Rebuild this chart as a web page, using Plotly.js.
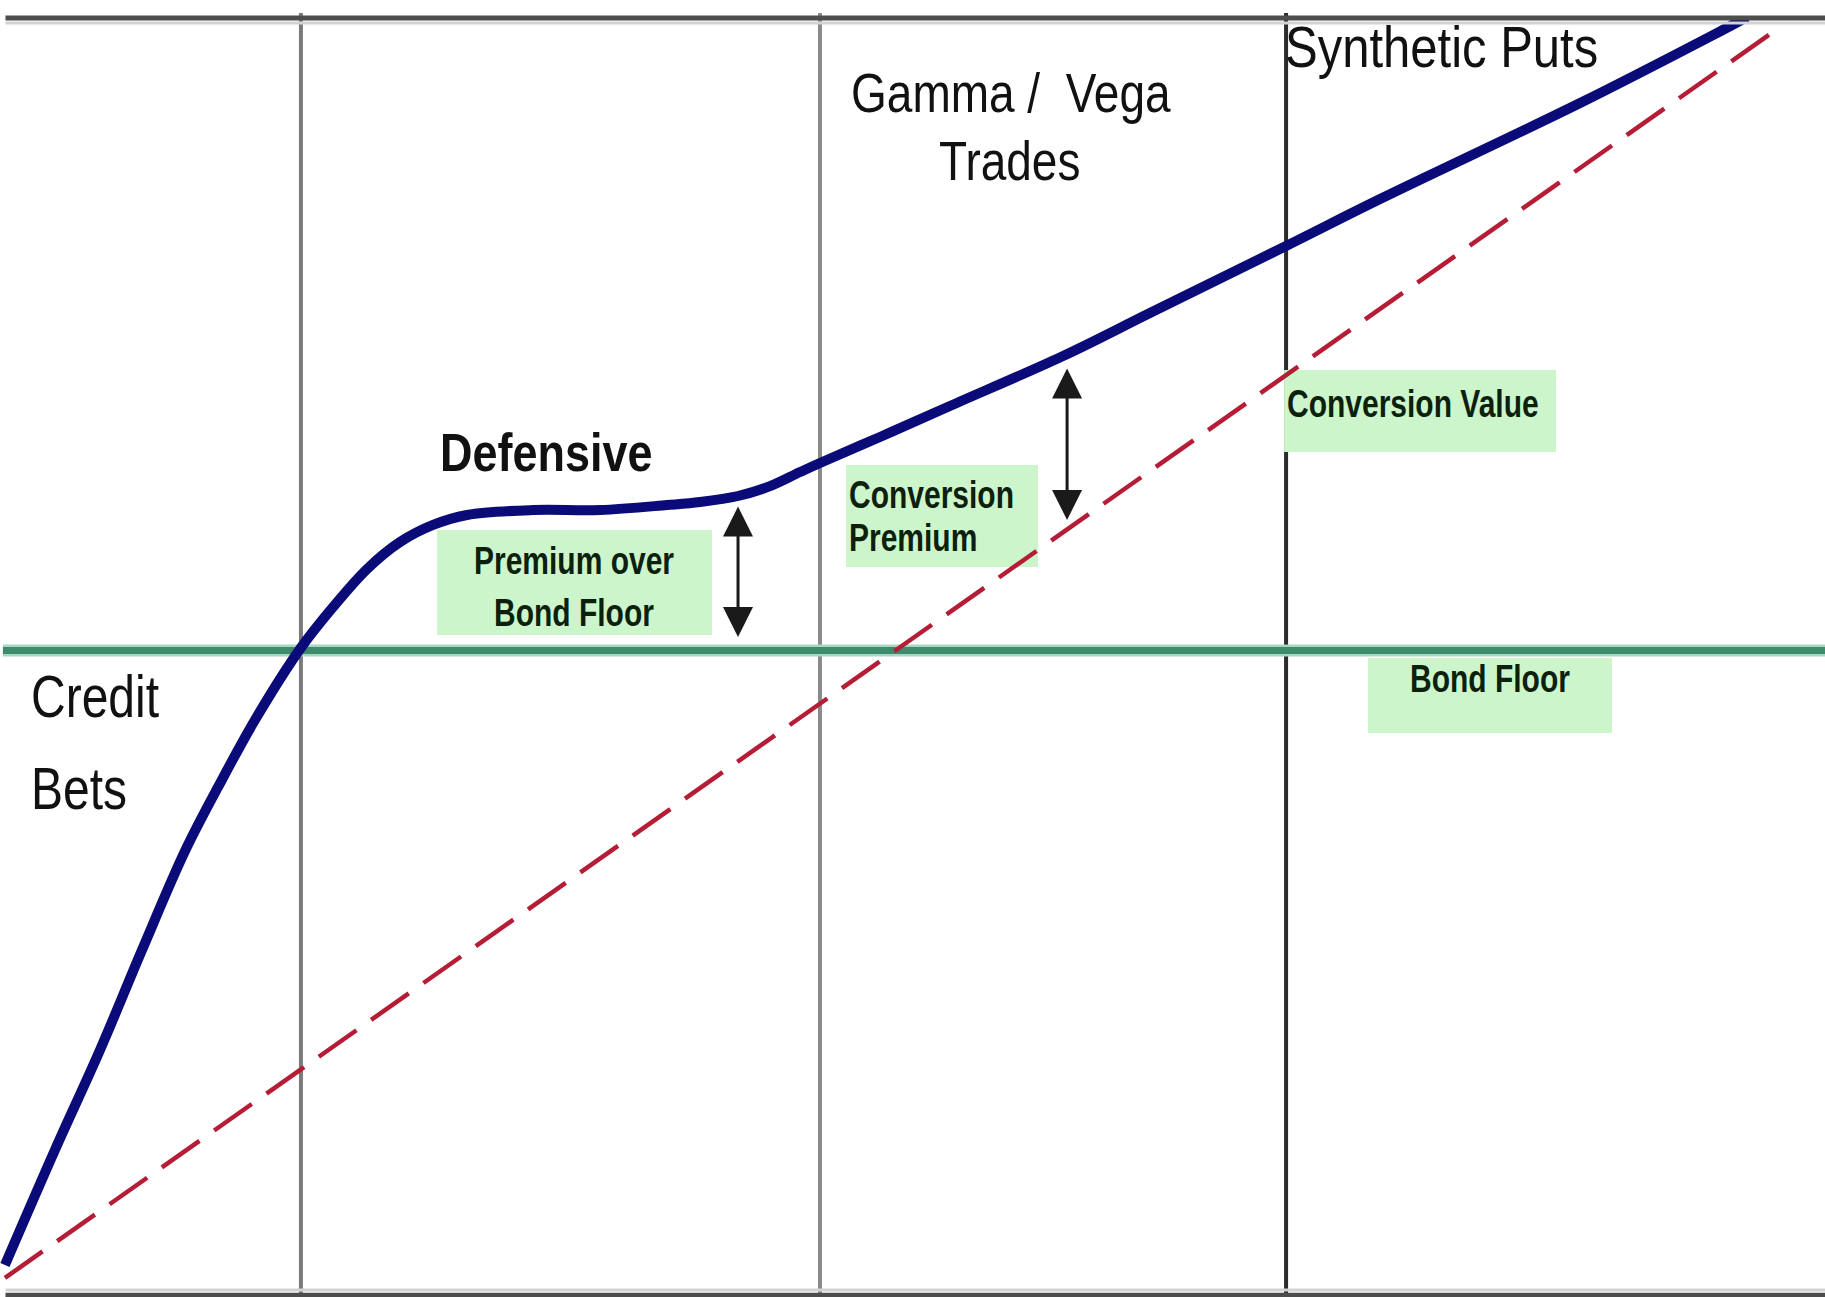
<!DOCTYPE html>
<html>
<head>
<meta charset="utf-8">
<script src="https://cdn.plot.ly/plotly-3.0.1.min.js"></script>
<style>
  html, body { margin: 0; padding: 0; background: #ffffff; }
  #chart { width: 1825px; height: 1297px; }
</style>
</head>
<body>
<div id="chart"></div>
<script>
// ---- Data (x = underlying stock price, y = value; both on a 0-100 scale) ----
// Convertible bond price (solid navy curve)
const cbPriceX = [0.27, 3.01, 5.48, 7.78, 10.14, 11.95, 13.97, 16.44, 18.25, 20.11, 21.92, 23.73, 25.59, 29.21, 32.88, 36.55, 38.36, 40.44, 42.08, 43.84, 44.93, 48.22, 52.05, 58.25, 63.01, 70.47, 75.62, 86.58, 93.86, 95.73];
const cbPriceY = [2.20, 11.22, 19.06, 26.90, 34.67, 39.69, 44.94, 50.51, 53.80, 56.78, 58.90, 60.24, 61.02, 61.41, 61.41, 61.80, 62.04, 62.51, 63.22, 64.39, 65.10, 67.14, 69.57, 73.49, 76.86, 82.12, 85.80, 93.33, 98.66, 100.08];

// Conversion value (dashed red line)
const convValueX = [0.27, 97.15];
const convValueY = [1.18, 98.90];

// Bond floor (flat green line)
const bondFloorX = [0.16, 100];
const bondFloorY = [50.4, 50.4];

// Regime boundaries (x positions of the vertical dividers)
const regimeBounds = [16.49, 44.93, 70.47];

// Regime labels
const regimeLabels = ["Credit", "Bets", "Defensive", "Gamma /  Vega", "Trades", "Synthetic Puts"];
// Box labels
const boxLabels = ["Premium over", "Bond Floor", "Conversion", "Premium", "Conversion Value", "Bond Floor"];

// Double arrows: [x, yTop, yBottom]
const premiumArrowBond = [40.44, 61.80, 51.45];
const premiumArrowConv = [58.47, 72.63, 60.63];

// ---- Styling ----
const FONT = "Liberation Sans, Arial, sans-serif";
const BOX_FILL = "#ccf5cc";

const traces = [
  {
    x: bondFloorX, y: bondFloorY, type: "scatter", mode: "lines",
    line: { color: "#a9d6c3", width: 12 }, hoverinfo: "skip"
  },
  {
    x: bondFloorX, y: bondFloorY, type: "scatter", mode: "lines",
    line: { color: "#3d8a6c", width: 7 }, hoverinfo: "skip"
  },
  {
    x: convValueX, y: convValueY, type: "scatter", mode: "lines",
    line: { color: "#b51d36", width: 4.5, dash: "46px,18px" }, hoverinfo: "skip"
  },
  {
    x: cbPriceX, y: cbPriceY, type: "scatter", mode: "lines",
    line: { color: "#0a0a78", width: 10, shape: "spline", smoothing: 1 }, hoverinfo: "skip"
  }
];

const vColors = ["#7a7a7a", "#8a8a8a", "#2b2b2b"];
const shapes = [];
// green label boxes (below traces)
const boxes = [
  [23.95, 39.01, 51.6, 59.84],
  [46.36, 56.88, 56.94, 64.94],
  [70.36, 85.26, 65.96, 72.39],
  [74.96, 88.33, 43.92, 49.80]
];
boxes.forEach(b => shapes.push({
  type: "rect", xref: "x", yref: "y", x0: b[0], x1: b[1], y0: b[2], y1: b[3],
  fillcolor: BOX_FILL, line: { width: 0 }, layer: "below"
}));
regimeBounds.forEach((xb, i) => shapes.push({
  type: "line", xref: "x", yref: "paper", x0: xb, x1: xb, y0: 0, y1: 1.004,
  line: { color: vColors[i], width: 4 }, layer: "below"
}));
// frame lines top and bottom
shapes.push({ type: "line", xref: "paper", yref: "paper", x0: 0.003, x1: 1, y0: 0.9961, y1: 0.9961, line: { color: "#d2d2d2", width: 3 } });
shapes.push({ type: "line", xref: "paper", yref: "paper", x0: 0.003, x1: 1, y0: 1, y1: 1, line: { color: "#4d4d4d", width: 5 } });
shapes.push({ type: "line", xref: "paper", yref: "paper", x0: 0.003, x1: 1, y0: 0.0024, y1: 0.0024, line: { color: "#d2d2d2", width: 3 } });
shapes.push({ type: "line", xref: "paper", yref: "paper", x0: 0.003, x1: 1, y0: -0.0018, y1: -0.0018, line: { color: "#4d4d4d", width: 5 } });

function label(text, x, y, size, opts) {
  return Object.assign({
    text: text, x: x, y: y, xref: "x", yref: "y", showarrow: false,
    xanchor: "center", yanchor: "middle",
    font: { family: FONT, size: size, color: "#111111" }
  }, opts || {});
}

const SMALL = 30;
const boxFont = { family: FONT, size: SMALL, color: "#0d1f0d", weight: "bold" };

const annotations = [
  label(regimeLabels[0], 1.58, 46.82, 48, { xanchor: "left" }),
  label(regimeLabels[1], 1.58, 39.53, 48, { xanchor: "left" }),
  label(regimeLabels[2], 29.92, 65.96, 45, { font: { family: FONT, size: 45, color: "#111111", weight: "bold" } }),
  label(regimeLabels[3], 55.42, 94.16, 46),
  label(regimeLabels[4], 55.34, 88.86, 46),
  label(regimeLabels[5], 70.30, 97.73, 49, { xanchor: "left" }),
  label(boxLabels[0], 31.45, 57.49, SMALL, { font: boxFont }),
  label(boxLabels[1], 31.45, 53.41, SMALL, { font: boxFont }),
  label(boxLabels[2], 46.40, 62.62, SMALL, { xanchor: "left", font: boxFont }),
  label(boxLabels[3], 46.40, 59.24, SMALL, { xanchor: "left", font: boxFont }),
  label(boxLabels[4], 70.40, 69.80, SMALL, { xanchor: "left", font: boxFont }),
  label(boxLabels[5], 81.64, 48.19, SMALL, { font: boxFont })
];
// vertical stretch of each text label (the source lettering is tall and narrow)
const textScaleY = [1.22, 1.22, 1.18, 1.22, 1.22, 1.16, 1.3, 1.3, 1.3, 1.3, 1.3, 1.3];

[premiumArrowBond, premiumArrowConv].forEach(a => annotations.push({
  x: a[0], y: a[2], ax: a[0], ay: a[1], xref: "x", yref: "y", axref: "x", ayref: "y",
  text: "", showarrow: true, arrowside: "end+start",
  arrowhead: 2, startarrowhead: 2, arrowsize: 2, startarrowsize: 2,
  arrowwidth: 3, arrowcolor: "#1a1a1a", standoff: 0, startstandoff: 0
}));

const layout = {
  width: 1825, height: 1297,
  margin: { l: 0, r: 0, t: 18, b: 4, pad: 0 },
  paper_bgcolor: "#ffffff", plot_bgcolor: "#ffffff",
  showlegend: false,
  xaxis: { range: [0, 100], visible: false, fixedrange: true },
  yaxis: { range: [0, 100], visible: false, fixedrange: true },
  shapes: shapes,
  annotations: annotations
};

Plotly.newPlot("chart", traces, layout, { staticPlot: true, displayModeBar: false }).then(gd => {
  gd.querySelectorAll("g.annotation").forEach(g => {
    const idx = +g.getAttribute("data-index");
    const s = textScaleY[idx];
    if (!s || s === 1) return;
    const t = g.querySelector("text.annotation-text");
    if (!t || !t.textContent) return;
    const bb = t.getBBox();
    const cy = bb.y + bb.height / 2;
    t.setAttribute("transform", "matrix(1,0,0," + s + ",0," + (cy * (1 - s)) + ")");
  });
});
</script>
</body>
</html>
